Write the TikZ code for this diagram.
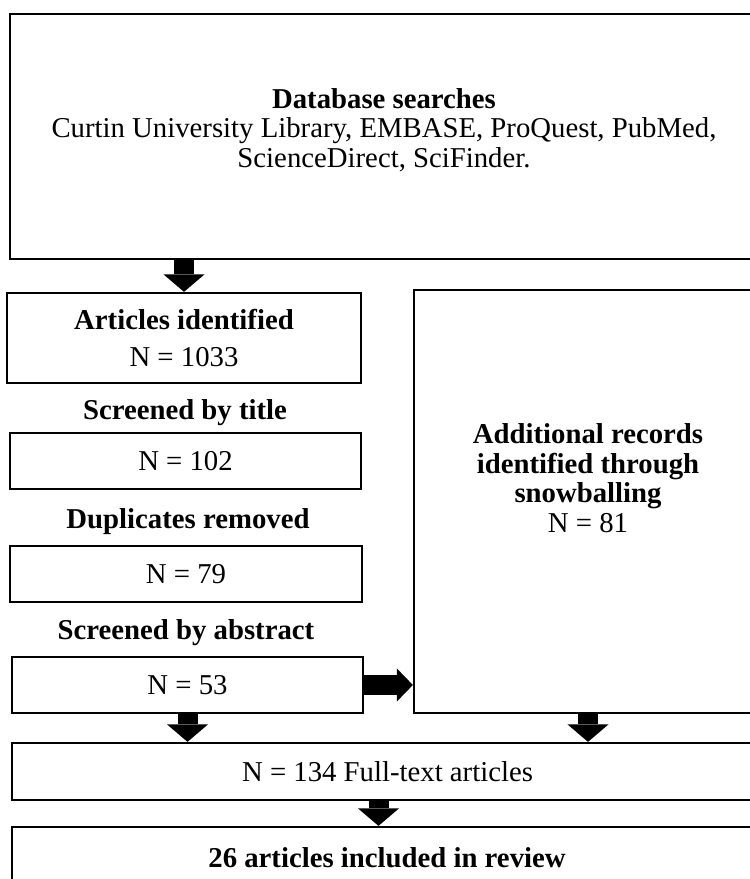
\documentclass[tikz,border=0pt]{standalone}
\usepackage{fontspec}
\setmainfont{Liberation Serif}
\usetikzlibrary{arrows.meta}
\tikzset{
  box/.style={draw,line width=0.9pt,inner sep=0pt},
  txt/.style={align=center,inner sep=0pt},
  down/.style={line width=8pt,-{Triangle[width=16.4pt,length=7pt,line width=0pt]}},
  side/.style={line width=8pt,-{Triangle[width=13.2pt,length=6.4pt,line width=0pt]}}
}
\begin{document}
\begin{tikzpicture}[x=0.4pt,y=-0.4pt,font=\fontsize{11.5}{11.8}\selectfont]
\useasboundingbox (0,0) rectangle (750,879);
\clip (0,0) rectangle (750,879);
\node[box,minimum width=752*0.4pt,minimum height=245*0.4pt] (db) at (386,136.5) {};
\node[txt] (dbtxt) at (384,130) {\textbf{Database searches}\\Curtin University Library, EMBASE, ProQuest, PubMed,\\ScienceDirect, SciFinder.};
\node[box,txt,minimum width=354*0.4pt,minimum height=90*0.4pt] (ident) at (184,338) {\textbf{Articles identified}\\[3pt]N = 1033};
\node[txt] (ttl) at (185,413) {\textbf{Screened by title}};
\node[box,minimum width=351*0.4pt,minimum height=56*0.4pt] (title) at (185.5,461) {N = 102};
\node[txt] (dup) at (188,522) {\textbf{Duplicates removed}};
\node[box,minimum width=352*0.4pt,minimum height=56*0.4pt] (dupl) at (186,574) {N = 79};
\node[txt] (abs) at (186,633) {\textbf{Screened by abstract}};
\node[box,minimum width=351*0.4pt,minimum height=56*0.4pt] (abst) at (187.5,685) {N = 53};
\node[box,minimum width=348*0.4pt,minimum height=423*0.4pt] (snow) at (588,501.5) {};
\node[txt] (snowtxt) at (588,478) {\textbf{Additional records}\\\textbf{identified through}\\\textbf{snowballing}\\N = 81};
\node[box,minimum width=751*0.4pt,minimum height=57*0.4pt] (full) at (387.5,771.5) {N = 134 Full-text articles};
\node[box,minimum width=751*0.4pt,minimum height=68*0.4pt] (final) at (387.5,861) {};
\node[txt] (finaltxt) at (387,858) {\textbf{26 articles included in review}};

\draw[down] (db.south-|ident.north) -- (ident.north); %search to identified
\draw[side] (abst.east) -- (snow.west|-abst.east);
\draw[down] (abst.south) -- (full.north-|abst.south);
\draw[down] (snow.south) -- (full.north-|snow.south);
\draw[down] ([xshift=-9*0.4pt]full.south) -- ([xshift=-9*0.4pt]final.north); %full text to review
\end{tikzpicture}
\end{document}
